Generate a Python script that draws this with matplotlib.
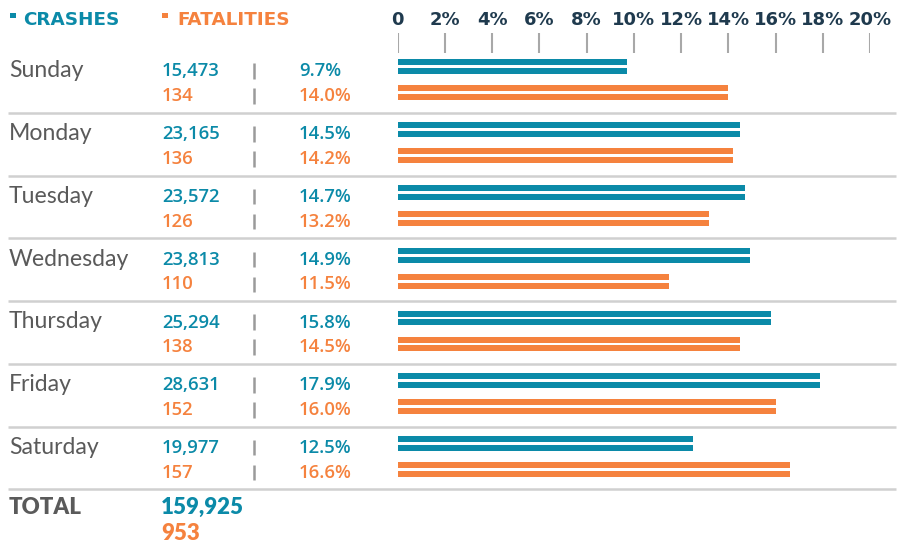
import matplotlib
matplotlib.use("Agg")
import matplotlib.pyplot as plt
from matplotlib.patches import Rectangle
import numpy as np

# ---- data ----
days = ["Sunday", "Monday", "Tuesday", "Wednesday", "Thursday", "Friday", "Saturday"]
crashes = [15473, 23165, 23572, 23813, 25294, 28631, 19977]
fatalities = [134, 136, 126, 110, 138, 152, 157]
crash_pct = [9.7, 14.5, 14.7, 14.9, 15.8, 17.9, 12.5]
fatal_pct = [14.0, 14.2, 13.2, 11.5, 14.5, 16.0, 16.6]
total_crashes = 159925
total_fatalities = 953
tick_values = [0, 2, 4, 6, 8, 10, 12, 14, 16, 18, 20]
tick_labels = ["0", "2%", "4%", "6%", "8%", "10%", "12%", "14%", "16%", "18%", "20%"]

# ---- style ----
TEAL = "#0b8aa8"
ORANGE = "#f5823e"
NAVY = "#1f3a4e"
GRAY = "#5a5a5a"
LINE = "#d0d0d0"
BODY = "Lato"
NUM = "Open Sans"
HEAVY = "DejaVu Sans"

W, H = 899, 545
fig = plt.figure(figsize=(W / 100, H / 100), dpi=100)
fig.patch.set_facecolor("white")

# table/overlay axes in pixel layout
ax = fig.add_axes([0, 0, 1, 1])
ax.set_xlim(0, W)
ax.set_ylim(H, 0)
ax.axis("off")

ROW0 = 79.7
STEP = 62.8

# headers
ax.add_patch(Rectangle((10, 12.5), 5.7, 5.2, color=TEAL, lw=0))
ax.text(23, 25, "CRASHES", color=TEAL, fontsize=13.2, fontweight="bold",
        family=HEAVY, va="baseline", ha="left")
ax.add_patch(Rectangle((162, 12.5), 5.7, 5.2, color=ORANGE, lw=0))
ax.text(177, 25, "FATALITIES", color=ORANGE, fontsize=13.2, fontweight="bold",
        family=HEAVY, va="baseline", ha="left")

for i, d in enumerate(days):
    c = ROW0 + STEP * i
    ax.text(9, c - 2.4, d, color=GRAY, fontsize=16.6, family=BODY,
            fontweight="normal", va="baseline", ha="left")
    ax.text(162, c - 3.2, f"{crashes[i]:,}", color=TEAL, fontsize=13.3,
            family=NUM, fontweight="semibold", va="baseline", ha="left")
    ax.text(162, c + 21.3, f"{fatalities[i]:,}", color=ORANGE, fontsize=13.3,
            family=NUM, fontweight="semibold", va="baseline", ha="left")
    ax.text(299, c - 3.2, f"{crash_pct[i]:.1f}%", color=TEAL, fontsize=13.3,
            family=NUM, fontweight="semibold", va="baseline", ha="left")
    ax.text(299, c + 21.3, f"{fatal_pct[i]:.1f}%", color=ORANGE, fontsize=13.3,
            family=NUM, fontweight="semibold", va="baseline", ha="left")
    ax.vlines(254, c - 16.5, c - 1, color="#9a9a9a", lw=1.8)
    ax.vlines(254, c + 8.5, c + 24, color="#9a9a9a", lw=1.8)
    ax.hlines(c + 33, 8, 896, color=LINE, lw=1.8)

# totals
ct = ROW0 + STEP * 7
ax.text(9, ct - 5.3, "TOTAL", color=GRAY, fontsize=16, family=BODY,
        fontweight="heavy", va="baseline", ha="left")
ax.text(161, ct - 5.0, f"{total_crashes:,}", color=TEAL, fontsize=16, family=BODY,
        fontweight="heavy", va="baseline", ha="left")
ax.text(161, ct + 20.5, f"{total_fatalities:,}", color=ORANGE, fontsize=16, family=BODY,
        fontweight="heavy", va="baseline", ha="left")

# bar axes
x0, x20 = 397.5, 870.0
axb = fig.add_axes([x0 / W, 0, (x20 - x0) / W, 1])
axb.set_xlim(0, 20)
axb.set_ylim((H - ROW0) / STEP, -ROW0 / STEP)
axb.axis("off")
axb.patch.set_alpha(0)

y = np.arange(len(days))
off_group = 13.0 / STEP
off_strip = 4.4 / STEP
hgt = 6.0 / STEP
for s in (-1, 1):
    axb.barh(y - off_group + s * off_strip, crash_pct, height=hgt, left=0,
             color=TEAL, lw=0)
    axb.barh(y + off_group + s * off_strip, fatal_pct, height=hgt, left=0,
             color=ORANGE, lw=0)

# ticks at top
axb.vlines(tick_values, (33 - ROW0) / STEP, (53 - ROW0) / STEP, color="#a8a8a8", lw=1.5)
for tv, tl in zip(tick_values, tick_labels):
    axb.text(tv, (25 - ROW0) / STEP, tl, color=NAVY, fontsize=13,
             fontweight="bold", family=HEAVY,
             ha="center", va="baseline")

fig.savefig("out.png", dpi=100, facecolor="white")
